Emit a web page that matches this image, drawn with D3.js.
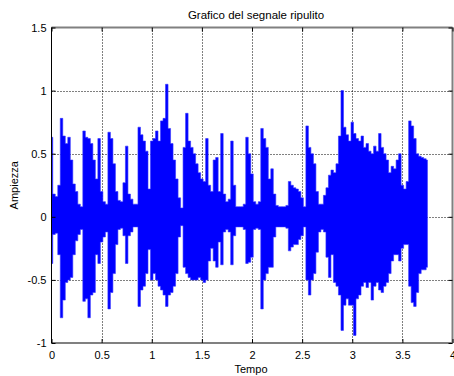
<!DOCTYPE html>
<html>
<head>
<meta charset="utf-8">
<script src="https://cdn.jsdelivr.net/npm/d3@7/dist/d3.min.js"></script>
<style>
  body { margin: 0; background: #fff; }
  text { font-family: "Liberation Sans", Arial, sans-serif; fill: #000; }
</style>
</head>
<body>
<div id="chart"></div>
<script>
// envelope of the cleaned signal, read every 0.025 s (0 .. 3.75 s)
const passo = 0.025;
const inviluppoSup = [
  0.63, 0.18, 0.16, 0.25, 0.78, 0.64, 0.58, 0.63, 0.45, 0.26,
  0.20, 0.10, 0.08, 0.68, 0.63, 0.62, 0.58, 0.45, 0.30, 0.62,
  0.20, 0.12, 0.10, 0.67, 0.62, 0.42, 0.20, 0.13, 0.12, 0.27,
  0.56, 0.18, 0.14, 0.10, 0.10, 0.71, 0.65, 0.60, 0.52, 0.22,
  0.60, 0.62, 0.68, 0.60, 0.76, 0.78, 1.05, 0.70, 0.58, 0.45,
  0.30, 0.15, 0.07, 0.55, 0.82, 0.60, 0.55, 0.50, 0.42, 0.35,
  0.30, 0.28, 0.62, 0.25, 0.20, 0.45, 0.47, 0.20, 0.66, 0.18,
  0.12, 0.14, 0.60, 0.25, 0.08, 0.08, 0.08, 0.10, 0.63, 0.50,
  0.34, 0.12, 0.10, 0.12, 0.70, 0.62, 0.55, 0.30, 0.38, 0.18,
  0.09, 0.08, 0.08, 0.08, 0.09, 0.28, 0.25, 0.23, 0.22, 0.20,
  0.15, 0.08, 0.72, 0.55, 0.50, 0.42, 0.20, 0.10, 0.10, 0.17,
  0.23, 0.33, 0.37, 0.35, 0.42, 0.64, 1.00, 0.71, 0.65, 0.60,
  0.75, 0.66, 0.62, 0.60, 0.64, 0.55, 0.58, 0.52, 0.50, 0.56,
  0.52, 0.66, 0.55, 0.50, 0.45, 0.35, 0.40, 0.38, 0.45, 0.50,
  0.25, 0.22, 0.28, 0.76, 0.72, 0.62, 0.50, 0.48, 0.47, 0.46,
  0.45
];
const inviluppoInf = [
  -0.37, -0.14, -0.13, -0.30, -0.80, -0.66, -0.52, -0.50, -0.48, -0.30,
  -0.19, -0.14, -0.10, -0.67, -0.65, -0.80, -0.62, -0.60, -0.30, -0.37,
  -0.20, -0.16, -0.12, -0.73, -0.60, -0.45, -0.22, -0.10, -0.09, -0.15,
  -0.37, -0.15, -0.12, -0.08, -0.08, -0.71, -0.58, -0.55, -0.45, -0.26,
  -0.50, -0.45, -0.50, -0.55, -0.58, -0.62, -0.71, -0.62, -0.60, -0.55,
  -0.45, -0.16, -0.07, -0.40, -0.45, -0.48, -0.50, -0.50, -0.50, -0.48,
  -0.50, -0.52, -0.50, -0.35, -0.25, -0.35, -0.40, -0.20, -0.38, -0.12,
  -0.10, -0.12, -0.38, -0.15, -0.08, -0.08, -0.08, -0.10, -0.37, -0.36,
  -0.32, -0.10, -0.09, -0.10, -0.73, -0.50, -0.45, -0.40, -0.40, -0.16,
  -0.08, -0.08, -0.08, -0.08, -0.09, -0.27, -0.24, -0.22, -0.22, -0.18,
  -0.15, -0.08, -0.50, -0.62, -0.50, -0.45, -0.28, -0.12, -0.10, -0.12,
  -0.32, -0.48, -0.30, -0.52, -0.55, -0.62, -0.90, -0.70, -0.65, -0.70,
  -0.70, -0.94, -0.65, -0.62, -0.55, -0.52, -0.56, -0.52, -0.66, -0.55,
  -0.52, -0.58, -0.60, -0.55, -0.52, -0.45, -0.35, -0.30, -0.30, -0.35,
  -0.25, -0.22, -0.22, -0.55, -0.68, -0.71, -0.60, -0.45, -0.42, -0.42,
  -0.40
];
const tickX = [0, 0.5, 1, 1.5, 2, 2.5, 3, 3.5, 4];
const tickY = [-1, -0.5, 0, 0.5, 1, 1.5];
const titolo = "Grafico del segnale ripulito";
const etichettaX = "Tempo";
const etichettaY = "Ampiezza";

const W = 454, H = 376;
const box = { left: 51.5, right: 452.5, top: 27.5, bottom: 343 };

const svg = d3.select("#chart").append("svg")
  .attr("width", W)
  .attr("height", H);

const x = d3.scaleLinear().domain([0, 4]).range([box.left, box.right]);
const y = d3.scaleLinear().domain([-1, 1.5]).range([box.bottom, box.top]);

// dotted grid
const grid = svg.append("g")
  .attr("stroke", "#000")
  .attr("stroke-width", 1)
  .attr("stroke-dasharray", "1,2");
grid.selectAll(".gx").data(tickX.slice(1, -1)).enter().append("line")
  .attr("x1", d => Math.round(x(d)) + 0.5).attr("x2", d => Math.round(x(d)) + 0.5)
  .attr("y1", box.top).attr("y2", box.bottom);
grid.selectAll(".gy").data(tickY.slice(1, -1)).enter().append("line")
  .attr("x1", box.left).attr("x2", box.right)
  .attr("y1", d => Math.round(y(d)) + 0.5).attr("y2", d => Math.round(y(d)) + 0.5);

// signal
const campioni = inviluppoSup.map((v, i) => ({ t: i * passo, sup: v, inf: inviluppoInf[i] }));
const area = d3.area()
  .curve(d3.curveStep)
  .x(d => x(d.t))
  .y0(d => y(d.inf))
  .y1(d => y(d.sup));
svg.append("path")
  .datum(campioni)
  .attr("fill", "#0000ff")
  .attr("stroke", "#3333ff")
  .attr("stroke-width", 0.6)
  .attr("d", area);

// box
svg.append("line").attr("x1", box.left).attr("x2", box.right).attr("y1", box.top).attr("y2", box.top)
  .attr("stroke", "#808080").attr("stroke-width", 2);
svg.append("line").attr("x1", box.left).attr("x2", box.right).attr("y1", box.bottom).attr("y2", box.bottom)
  .attr("stroke", "#808080").attr("stroke-width", 2);
svg.append("line").attr("x1", box.right).attr("x2", box.right).attr("y1", box.top).attr("y2", box.bottom)
  .attr("stroke", "#808080").attr("stroke-width", 2);
svg.append("line").attr("x1", box.left).attr("x2", box.left).attr("y1", box.top).attr("y2", box.bottom)
  .attr("stroke", "#000").attr("stroke-width", 1);

// axes (ticks pointing inwards, MATLAB style)
const xAxis = d3.axisBottom(x).tickValues(tickX).tickSize(-4).tickPadding(8)
  .tickFormat(d => String(d));
const gx = svg.append("g").attr("transform", `translate(0,${box.bottom})`).call(xAxis);
gx.select(".domain").remove();
gx.selectAll("text").attr("font-size", 11).attr("font-family", "Liberation Sans, Arial, sans-serif");

const xTop = d3.axisTop(x).tickValues(tickX).tickSize(-4).tickFormat("");
const gxt = svg.append("g").attr("transform", `translate(0,${box.top})`).call(xTop);
gxt.select(".domain").remove();

const yAxis = d3.axisLeft(y).tickValues(tickY).tickSize(-4).tickPadding(5)
  .tickFormat(d => String(d));
const gy = svg.append("g").attr("transform", `translate(${box.left},0)`).call(yAxis);
gy.select(".domain").remove();
gy.selectAll("text").attr("font-size", 11).attr("font-family", "Liberation Sans, Arial, sans-serif");

const yRight = d3.axisRight(y).tickValues(tickY).tickSize(-4).tickFormat("");
const gyr = svg.append("g").attr("transform", `translate(${box.right},0)`).call(yRight);
gyr.select(".domain").remove();

svg.selectAll(".tick line").attr("stroke", "#000");

// labels
svg.append("text")
  .attr("x", 256).attr("y", 19)
  .attr("text-anchor", "middle")
  .attr("font-size", 11.5)
  .text(titolo);

svg.append("text")
  .attr("x", 251).attr("y", 373)
  .attr("text-anchor", "middle")
  .attr("font-size", 11)
  .text(etichettaX);

svg.append("text")
  .attr("transform", `translate(18,${(box.top + box.bottom) / 2}) rotate(-90)`)
  .attr("text-anchor", "middle")
  .attr("font-size", 11)
  .text(etichettaY);
</script>
</body>
</html>
